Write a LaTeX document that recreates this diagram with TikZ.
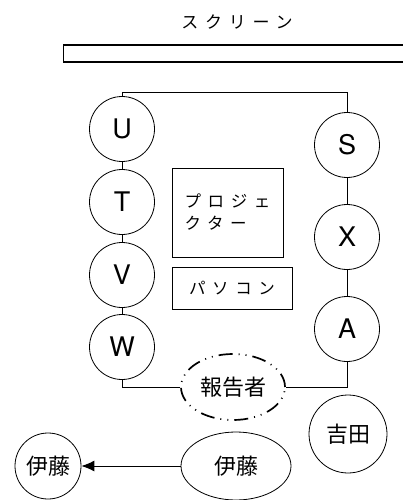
\documentclass[tikz,border=0pt]{standalone}
\usepackage{fontspec}
\setmainfont{TeX Gyre Heros}
\newfontfamily\jp{Noto Sans CJK JP}
\newfontfamily\jpsp[LetterSpace=40]{Noto Sans CJK JP}
\usetikzlibrary{arrows.meta,shapes.geometric}
\begin{document}
\begin{tikzpicture}[x=1pt,y=-1pt,
  person/.style={circle, draw, line width=0.8pt, minimum size=65pt, inner sep=0pt, font=\fontsize{27}{27}\selectfont},
  jpcircle/.style={circle, draw, line width=0.8pt, inner sep=0pt, font=\jp\fontsize{22}{22}\selectfont},
  box/.style={draw, line width=0.9pt, inner sep=0pt, font=\jpsp\fontsize{16.5}{22}\selectfont},
  conn/.style={line width=0.9pt}]
\useasboundingbox (0,0) rectangle (402,500);
\node[font=\jpsp\fontsize{17}{17}\selectfont] (title) at (237,22) {スクリーン};
\node[draw, line width=1.1pt, anchor=west, minimum width=345pt, minimum height=17pt, inner sep=0pt] (screen) at (63,53.5) {};
\node[person] (U) at (122,129) {U};
\node[person] (T) at (122,202) {T};
\node[person] (V) at (122,275) {V};
\node[person] (W) at (122,347) {W};
\node[person] (S) at (347,145) {S};
\node[person] (X) at (347,237) {X};
\node[person] (A) at (347,329) {A};
\node[jpcircle, minimum size=78pt] (yoshida) at (348,434) {吉田};
\node[box, minimum width=111pt, minimum height=89pt, align=left] (proj) at (227.5,212.5) {プロジェ\\クター};
\node[box, minimum width=120pt, minimum height=42pt] (pc) at (232,288) {パソコン};
\node[ellipse, draw, line width=1.7pt, minimum width=104pt, minimum height=66pt, inner sep=0pt,
  dash pattern=on 14pt off 6pt on 1pt off 6pt on 1pt off 6pt,
  font=\jp\fontsize{22}{22}\selectfont] (rep) at (233,387) {報告者};
\node[ellipse, draw, line width=0.8pt, minimum width=110pt, minimum height=68pt, inner sep=0pt,
  font=\jp\fontsize{22}{22}\selectfont] (ito2) at (236,466) {伊藤};
\node[jpcircle, minimum size=66pt] (ito1) at (48,466) {伊藤};
\coordinate (tl) at (122,92);
\coordinate (tr) at (347,92);
\coordinate (bl) at (122,387);
\coordinate (br) at (347,387);
\draw[conn] (U.north) -- (tl) -- (tr) -- (S.north);
\draw[conn] (U) -- (T);
\draw[conn] (T) -- (V);
\draw[conn] (V) -- (W);
\draw[conn] (S) -- (X);
\draw[conn] (X) -- (A);
\draw[conn] (W.south) -- (bl) -- (rep.west);
\draw[conn] (A.south) -- (br) -- (rep.east);
\draw[conn, -{Latex[length=13pt,width=11pt]}] (ito2.west) -- (ito1.east);
\end{tikzpicture}
\end{document}
